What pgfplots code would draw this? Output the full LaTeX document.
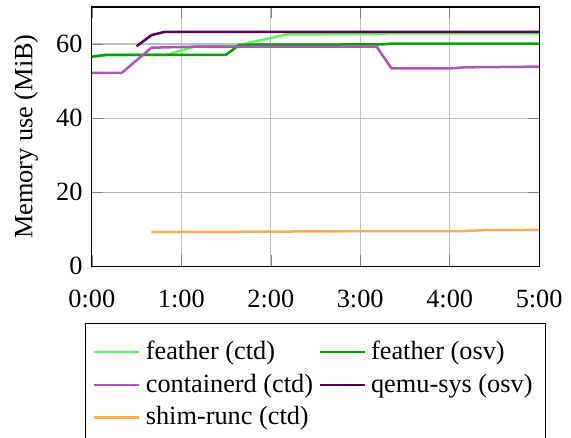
\documentclass[border=0pt]{standalone}
\usepackage{fontspec}
\setmainfont{Liberation Serif}
\usepackage{pgfplots}
\pgfplotsset{compat=1.18}
\definecolor{fctd}{RGB}{95,245,95}
\definecolor{fosv}{RGB}{0,160,0}
\definecolor{cctd}{RGB}{175,85,185}
\definecolor{qosv}{RGB}{85,0,85}
\definecolor{sctd}{RGB}{255,170,85}
\begin{document}
\begin{tikzpicture}
\begin{axis}[
  scale only axis,
  width=170pt, height=98.5pt,
  xmin=0, xmax=300, ymin=0, ymax=70,
  xtick={0,60,120,180,240,300},
  xticklabels={0:00,1:00,2:00,3:00,4:00,5:00},
  xticklabel style={yshift=-5.5pt},
  ytick={0,20,40,60},
  grid=major,
  /pgf/number format/assume math mode=true,
  ylabel={Memory use (MiB)},
  legend columns=2,
  legend cell align=left,
  legend style={at={(0.5,-0.22)}, anchor=north, font=\normalsize, draw=black, inner ysep=4.5pt},
  every axis plot/.append style={line width=0.95pt},
]
\addplot[fctd] coordinates {(0,56.5) (10,57.0) (50,57.1) (70,59.4) (97,59.6) (131,62.6) (190,62.7) (200,62.9) (300,62.9)};
\addlegendentry{feather (ctd)}
\addplot[fosv] coordinates {(0,56.6) (10,57.1) (90,57.1) (99,59.8) (195,59.9) (200,60.1) (300,60.1)};
\addlegendentry{feather (osv)}
\addplot[cctd] coordinates {(0,52.2) (20,52.2) (40,59.0) (70,59.3) (191,59.3) (201,53.4) (240,53.4) (250,53.7) (300,53.9)};
\addlegendentry{containerd (ctd)}
\addplot[qosv] coordinates {(30,59.4) (40,62.4) (49,63.3) (300,63.3)};
\addlegendentry{qemu-sys (osv)}
\addplot[sctd] coordinates {(40,9.2) (100,9.3) (200,9.5) (250,9.5) (260,9.7) (300,9.8)};
\addlegendentry{shim-runc (ctd)}
\end{axis}
\pgfresetboundingbox
\path ([xshift=-34.9pt,yshift=-65.1pt]current axis.south west) rectangle ([xshift=12.1pt,yshift=2.66pt]current axis.north east);
\end{tikzpicture}
\end{document}
